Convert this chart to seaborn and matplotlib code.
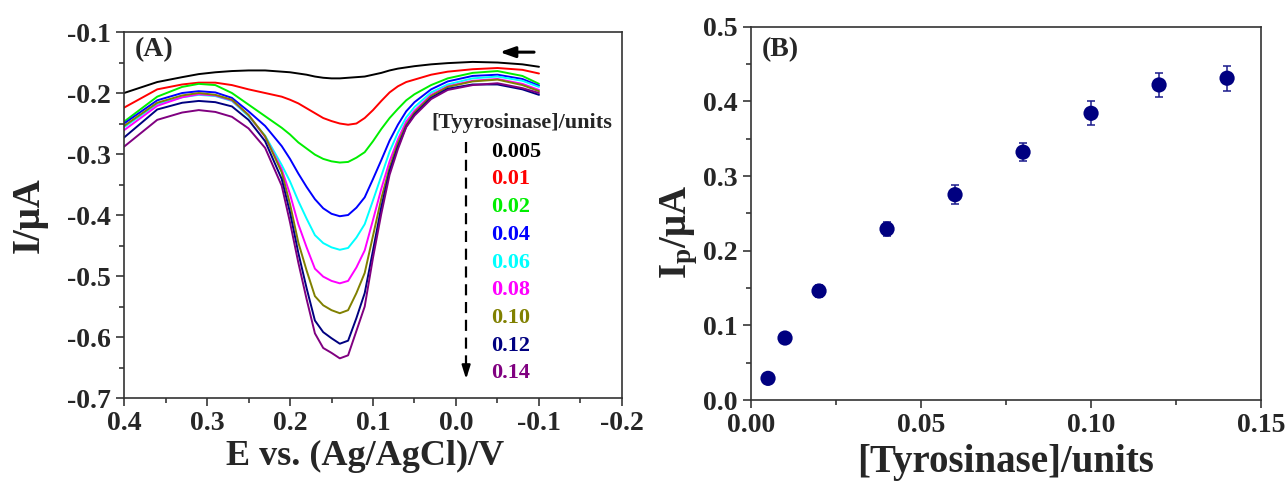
import numpy as np
import pandas as pd
import matplotlib
matplotlib.use("Agg")
import matplotlib.pyplot as plt
import seaborn as sns
from matplotlib.ticker import MultipleLocator, FixedLocator, FormatStrFormatter

# potentiel (V vs Ag/AgCl), balayage de 0.4 vers -0.1
potential = [0.40, 0.36, 0.33, 0.31, 0.29, 0.27, 0.25, 0.23, 0.21, 0.20, 0.19, 0.18, 0.17, 0.16,
             0.15, 0.14, 0.13, 0.12, 0.11, 0.10, 0.09, 0.08, 0.07, 0.06, 0.05, 0.03, 0.01,
             -0.02, -0.05, -0.08, -0.10]

conc_labels = ["0.005", "0.01", "0.02", "0.04", "0.06", "0.08", "0.10", "0.12", "0.14"]
curve_colors = ["#000000", "#ff0000", "#00ee00", "#0000ff", "#00ffff",
                "#ff00ff", "#808000", "#000080", "#800080"]

i_0005 = [-0.200, -0.182, -0.174, -0.169, -0.166, -0.164, -0.163, -0.163, -0.165, -0.166, -0.168,
          -0.170, -0.173, -0.175, -0.176, -0.176, -0.175, -0.174, -0.173, -0.170, -0.167, -0.163,
          -0.160, -0.158, -0.156, -0.153, -0.151, -0.149, -0.150, -0.153, -0.157]
i_001 = [-0.224, -0.194, -0.186, -0.183, -0.183, -0.187, -0.194, -0.200, -0.206, -0.211, -0.217,
         -0.225, -0.233, -0.241, -0.246, -0.250, -0.252, -0.250, -0.241, -0.228, -0.213, -0.199,
         -0.189, -0.182, -0.178, -0.170, -0.165, -0.161, -0.159, -0.162, -0.168]
i_002 = [-0.247, -0.206, -0.190, -0.185, -0.187, -0.200, -0.219, -0.238, -0.257, -0.268, -0.281,
         -0.291, -0.301, -0.308, -0.312, -0.314, -0.313, -0.306, -0.297, -0.279, -0.259, -0.241,
         -0.226, -0.212, -0.202, -0.187, -0.176, -0.167, -0.164, -0.172, -0.185]
i_004 = [-0.250, -0.212, -0.200, -0.197, -0.199, -0.208, -0.230, -0.254, -0.287, -0.308, -0.332,
         -0.354, -0.374, -0.389, -0.398, -0.402, -0.400, -0.388, -0.371, -0.341, -0.310, -0.278,
         -0.252, -0.230, -0.215, -0.194, -0.181, -0.172, -0.170, -0.177, -0.188]
i_006 = [-0.256, -0.218, -0.207, -0.203, -0.205, -0.213, -0.238, -0.270, -0.318, -0.345, -0.377,
         -0.406, -0.433, -0.446, -0.453, -0.457, -0.454, -0.437, -0.415, -0.376, -0.336, -0.296,
         -0.265, -0.240, -0.223, -0.199, -0.186, -0.176, -0.173, -0.180, -0.190]
i_008 = [-0.261, -0.221, -0.207, -0.202, -0.204, -0.212, -0.236, -0.272, -0.325, -0.366, -0.415,
         -0.453, -0.488, -0.501, -0.508, -0.512, -0.508, -0.486, -0.458, -0.408, -0.357, -0.312,
         -0.276, -0.247, -0.229, -0.203, -0.189, -0.180, -0.177, -0.185, -0.195]
i_010 = [-0.254, -0.216, -0.204, -0.200, -0.203, -0.211, -0.236, -0.271, -0.330, -0.382, -0.445,
         -0.491, -0.533, -0.548, -0.556, -0.561, -0.556, -0.528, -0.495, -0.434, -0.373, -0.322,
         -0.282, -0.252, -0.232, -0.205, -0.190, -0.181, -0.178, -0.187, -0.197]
i_012 = [-0.273, -0.227, -0.216, -0.213, -0.215, -0.222, -0.244, -0.279, -0.341, -0.396, -0.462,
         -0.520, -0.573, -0.592, -0.602, -0.611, -0.606, -0.569, -0.528, -0.458, -0.387, -0.328,
         -0.288, -0.255, -0.235, -0.208, -0.193, -0.186, -0.186, -0.194, -0.203]
i_014 = [-0.288, -0.244, -0.232, -0.228, -0.231, -0.239, -0.258, -0.290, -0.352, -0.412, -0.478,
         -0.538, -0.594, -0.618, -0.626, -0.635, -0.630, -0.590, -0.550, -0.470, -0.398, -0.334,
         -0.292, -0.256, -0.237, -0.210, -0.195, -0.187, -0.184, -0.192, -0.200]

# courbe d'étalonnage (B)
tyr_units = [0.005, 0.01, 0.02, 0.04, 0.06, 0.08, 0.10, 0.12, 0.14]
peak_current = [0.029, 0.083, 0.146, 0.229, 0.275, 0.332, 0.384, 0.422, 0.431]
peak_err = [0.004, 0.005, 0.008, 0.010, 0.013, 0.0125, 0.016, 0.016, 0.017]

sns.set_style("ticks")
plt.rcParams["font.family"] = ["Liberation Serif", "DejaVu Serif"]
plt.rcParams["font.weight"] = "bold"
plt.rcParams["axes.labelweight"] = "bold"
plt.rcParams["axes.unicode_minus"] = False
plt.rcParams["mathtext.fontset"] = "custom"
plt.rcParams["mathtext.rm"] = "Liberation Serif:bold"
plt.rcParams["mathtext.it"] = "Liberation Serif:bold"
plt.rcParams["mathtext.bf"] = "Liberation Serif:bold"

curves = [i_0005, i_001, i_002, i_004, i_006, i_008, i_010, i_012, i_014]
df = pd.concat(
    [pd.DataFrame({"E": potential, "I": c, "conc": lab}) for c, lab in zip(curves, conc_labels)],
    ignore_index=True,
)

fig = plt.figure(figsize=(12.88, 4.88), dpi=100)
ax1 = fig.add_axes([0.0963, 0.1844, 0.3866, 0.75])
ax2 = fig.add_axes([0.5831, 0.1803, 0.3960, 0.7650])


def style_axis(ax):
    for sp in ax.spines.values():
        sp.set_visible(True)
        sp.set_linewidth(1.2)
        sp.set_color("#333333")
    ax.tick_params(which="both", direction="out", width=1.1, labelsize=20,
                   top=False, right=False)
    ax.tick_params(which="major", length=6)
    ax.tick_params(which="minor", length=3.5)
    for lab in ax.get_xticklabels() + ax.get_yticklabels():
        lab.set_fontweight("bold")


# --- (A) voltammogrammes
sns.lineplot(data=df, x="E", y="I", hue="conc", palette=curve_colors, sort=False,
             estimator=None, linewidth=1.4, legend=False, ax=ax1)
ax1.set_xlim(0.4, -0.2)
ax1.set_ylim(-0.7, -0.1)
ax1.xaxis.set_major_locator(FixedLocator([0.4, 0.3, 0.2, 0.1, 0.0, -0.1, -0.2]))
ax1.xaxis.set_minor_locator(MultipleLocator(0.05))
ax1.yaxis.set_major_locator(MultipleLocator(0.1))
ax1.yaxis.set_minor_locator(MultipleLocator(0.05))
ax1.xaxis.set_major_formatter(FormatStrFormatter("%.1f"))
ax1.yaxis.set_major_formatter(FormatStrFormatter("%.1f"))
style_axis(ax1)
ax1.set_xlabel("E vs. (Ag/AgCl)/V", fontsize=26, fontweight="bold")
ax1.set_ylabel("I/μA", fontsize=28, fontweight="bold")
ax1.xaxis.set_label_coords(0.484, -0.115)
ax1.yaxis.set_label_coords(-0.153, 0.50)

ax1.text(0.022, 0.951, "(A)", transform=ax1.transAxes, fontsize=20,
         fontweight="bold", va="center", ha="left")
ax1.text(0.618, 0.751, "[Tyyrosinase]/units", transform=ax1.transAxes,
         fontsize=16, fontweight="bold", va="center", ha="left")
for k, (lab, col) in enumerate(zip(conc_labels, curve_colors)):
    ax1.text(0.738, 0.673 - k * 0.0757, lab, transform=ax1.transAxes, color=col,
             fontsize=16, fontweight="bold", va="center", ha="left")

# flèche pointillée + flèche de balayage
ax1.plot([0.687, 0.687], [0.700, 0.075], transform=ax1.transAxes, color="black",
         lw=1.6, ls=(0, (5, 3)))
ax1.annotate("", xy=(0.687, 0.044), xytext=(0.687, 0.085), xycoords="axes fraction",
             arrowprops=dict(arrowstyle="-|>,head_length=0.8,head_width=0.25",
                             color="black", lw=1.6))
ax1.annotate("", xy=(0.749, 0.945), xytext=(0.829, 0.945), xycoords="axes fraction",
             arrowprops=dict(arrowstyle="-|>,head_length=0.9,head_width=0.32",
                             color="black", lw=2.2))

# --- (B) courant de pic
ax2.errorbar(tyr_units, peak_current, yerr=peak_err, fmt="none", ecolor="#1a1a8c",
             elinewidth=1.1, capsize=3, capthick=1.1, zorder=2)
sns.scatterplot(x=tyr_units, y=peak_current, color="#000080", s=120,
                edgecolor="none", zorder=3, ax=ax2)
ax2.set_xlim(0.0, 0.15)
ax2.set_ylim(0.0, 0.5)
ax2.xaxis.set_major_locator(MultipleLocator(0.05))
ax2.xaxis.set_minor_locator(MultipleLocator(0.025))
ax2.yaxis.set_major_locator(MultipleLocator(0.1))
ax2.yaxis.set_minor_locator(MultipleLocator(0.05))
ax2.xaxis.set_major_formatter(FormatStrFormatter("%.2f"))
ax2.yaxis.set_major_formatter(FormatStrFormatter("%.1f"))
style_axis(ax2)
ax2.set_xlabel("[Tyrosinase]/units", fontsize=28, fontweight="bold")
ax2.set_ylabel(r"I$_\mathregular{p}$/μA", fontsize=28, fontweight="bold")
ax2.xaxis.set_label_coords(0.5, -0.118)
ax2.yaxis.set_label_coords(-0.10, 0.45)
ax2.text(0.021, 0.9375, "(B)", transform=ax2.transAxes, fontsize=20,
         fontweight="bold", va="center", ha="left")

fig.savefig("out.png", dpi=100)
